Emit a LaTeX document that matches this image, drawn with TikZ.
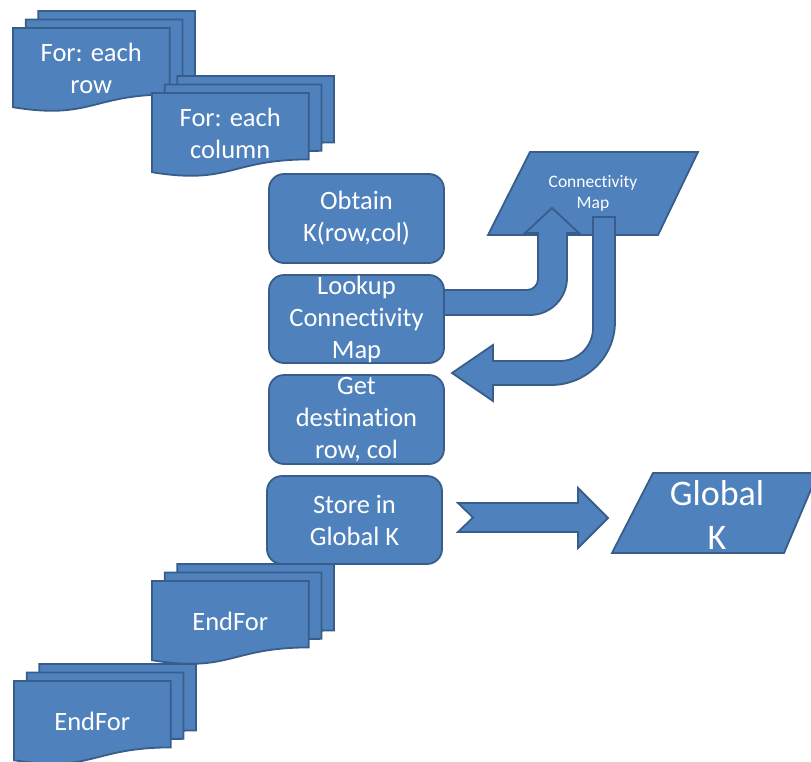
\documentclass[tikz,border=0pt]{standalone}
\usepackage{fontspec}
\setmainfont{Carlito}[Ligatures=NoCommon]
\definecolor{fillb}{HTML}{4F81BD}
\definecolor{lineb}{HTML}{385D8A}
\tikzset{
  shp/.style={fill=fillb, draw=lineb, line width=1.8pt, line join=miter},
  rbox/.style={shp, rectangle, rounded corners=15pt, minimum width=175pt, minimum height=89pt, inner sep=0pt},
  bigtxt/.style={text=white, align=center, font=\fontsize{26.5}{32}\selectfont, inner sep=0pt},
  smalltxt/.style={text=white, align=center, font=\fontsize{17.5}{21}\selectfont, inner sep=0pt},
  hugetxt/.style={text=white, align=center, font=\fontsize{36}{44}\selectfont, inner sep=0pt}
}
\newcommand\multidoc[4]{%
  \begin{scope}[shift={(#1,#2)}, xscale=182, yscale=100]
    \draw[shp] (0.1391,0) -- (1,0) -- (1,0.6643) .. controls (0.5696,0.6643) and (0.5696,0.9198) .. (0.1391,0.7920) -- cycle;
    \draw[shp] (0.0700,0.0840) -- (0.9309,0.0840) -- (0.9309,0.7483) .. controls (0.5005,0.7483) and (0.5005,1.0038) .. (0.0700,0.8760) -- cycle;
    \draw[shp] (0,0.1701) -- (0.8609,0.1701) -- (0.8609,0.8344) .. controls (0.4305,0.8344) and (0.4305,1.0899) .. (0,0.9621) -- cycle;
    \node[bigtxt] (#3) at (0.43,0.57) {#4};
  \end{scope}}
\begin{document}
\begin{tikzpicture}[x=1pt, y=-1pt]
  \useasboundingbox (0,0) rectangle (811,761);
  \clip (0,0) rectangle (811,761);

  % loops
  \multidoc{13}{11}{forrow}{For: each\\row}
  \multidoc{152}{76}{forcol}{For: each\\column}

  % process boxes
  \node[rbox] (obtain) at (356.5,218.5) {};
  \node[bigtxt] (obtaintxt) at (obtain.center) {Obtain\\K(row,col)};
  \node[rbox, minimum height=88pt] (lookup) at (356.5,319) {};
  \node[bigtxt] (lookuptxt) at (lookup.center) {Lookup\\Connectivity\\Map};
  \node[rbox] (get) at (356.5,419.5) {};
  \node[bigtxt] (gettxt) at (get.center) {Get\\destination\\row, col};
  \node[rbox, minimum height=88pt] (store) at (354.5,520) {};
  \node[bigtxt] (storetxt) at (store.center) {Store in\\Global K};

  % connectivity map data
  \draw[shp] (530,152) -- (698,152) -- (658,235) -- (488,235) -- cycle;
  \node[smalltxt] (cmap) at (593,193) {Connectivity\\Map};

  % bent arrow up into the map
  \draw[shp] (444,290) -- (527,290) .. controls (533.1,290) and (538,285.1) .. (538,279)
    -- (538,233) -- (525,233) -- (552,208) -- (579,233) -- (567,233) -- (567,278)
    .. controls (567,298.4) and (550.4,315) .. (530,315) -- (444,315) -- cycle;

  % bent arrow down out of the map
  \draw[shp] (593,217) -- (615,217) -- (615,322) .. controls (615,356.8) and (586.3,385) .. (551,385)
    -- (493,385) -- (493,401) -- (452,373) -- (493,345) -- (493,361) -- (560,361)
    .. controls (578.2,361) and (593,346.2) .. (593,328) -- cycle;

  % notched arrow to Global K
  \draw[shp] (458,503) -- (578,503) -- (578,488) -- (608,518) -- (578,548) -- (578,532)
    -- (458,532) -- (473,517.5) -- cycle;

  % Global K data
  \draw[shp] (653,473) -- (818,473) -- (784,553) -- (612,553) -- cycle;
  \node[hugetxt] (globalk) at (717,515) {Global\\K};

  % end loops
  \multidoc{152}{564}{endcol}{EndFor}
  \multidoc{14}{664}{endrow}{EndFor}
\end{tikzpicture}
\end{document}
